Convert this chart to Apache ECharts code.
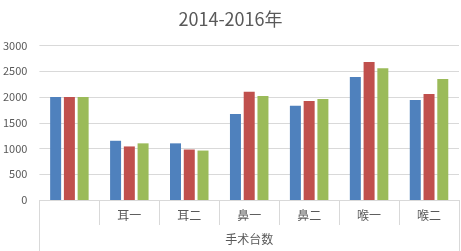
<!DOCTYPE html>
<html><head><meta charset="utf-8">
<script src="https://cdn.jsdelivr.net/npm/echarts@6/dist/echarts.min.js"></script>
<style>html,body{margin:0;padding:0;background:#fff}#c{width:461px;height:251px}</style>
</head><body><div id="c"></div>
<script>
var titleText = '2014-2016年';
var categories = ['', '耳一', '耳二', '鼻一', '鼻二', '喉一', '喉二'];
var groupLabel = ['手术台数'];
var series2014 = [2000, 1150, 1100, 1670, 1830, 2390, 1940];
var series2015 = [2000, 1040, 980, 2100, 1920, 2680, 2060];
var series2016 = [2000, 1100, 960, 2020, 1960, 2560, 2350];
var seriesNames = ['2014', '2015', '2016'];
var colors = ['#4f81bd', '#c0504d', '#9bbb59'];

var font = '"Noto Sans CJK SC", "Noto Sans", sans-serif';
var chart = echarts.init(document.getElementById('c'), null, {renderer: 'canvas'});
function mk(name, data, color) {
  return {name: name, type: 'bar', data: data, barWidth: 11, barGap: '25%',
    itemStyle: {color: color}, xAxisIndex: 0};
}
chart.setOption({
  animation: false,
  textStyle: {fontFamily: font},
  title: {text: titleText, left: 'center', top: 5,
    textStyle: {fontSize: 18, fontWeight: 'normal', color: '#595959', fontFamily: font}},
  grid: {left: 39, right: 2, top: 45.5, bottom: 51, containLabel: false},
  xAxis: [{
    type: 'category', data: categories, position: 'bottom',
    axisLine: {show: true, lineStyle: {color: '#d9d9d9'}},
    axisTick: {show: true, length: 25, lineStyle: {color: '#d9d9d9'}},
    axisLabel: {color: '#595959', fontSize: 12, margin: 9, fontFamily: font}
  }, {
    type: 'category', data: groupLabel, position: 'bottom', offset: 25,
    axisLine: {show: false},
    axisTick: {show: true, length: 26, lineStyle: {color: '#d9d9d9'}},
    axisLabel: {color: '#595959', fontSize: 12, margin: 8, fontFamily: font}
  }],
  yAxis: {
    type: 'value', min: 0, max: 3000, interval: 500,
    axisLine: {show: false}, axisTick: {show: false},
    splitLine: {lineStyle: {color: '#d9d9d9'}},
    axisLabel: {color: '#595959', fontSize: 11, margin: 12, fontFamily: font,
      formatter: function (v) { return String(v); }}
  },
  series: [
    mk(seriesNames[0], series2014, colors[0]),
    mk(seriesNames[1], series2015, colors[1]),
    mk(seriesNames[2], series2016, colors[2])
  ]
});
</script></body></html>
